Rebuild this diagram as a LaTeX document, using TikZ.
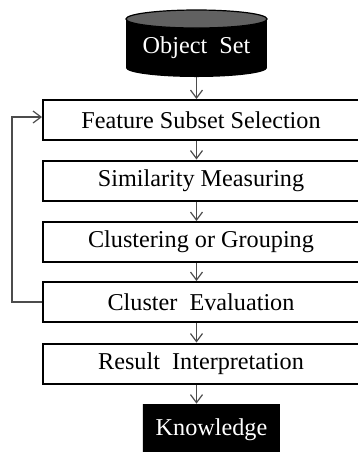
\documentclass[tikz,border=0pt]{standalone}
\usepackage{fontspec}
\setmainfont{Liberation Serif}
\usepackage{tikz}
\usetikzlibrary{calc,arrows.meta}
\tikzset{
	stage/.style={draw, line width=1pt, minimum width=158pt, minimum height=20pt, inner sep=0pt, fill=white},
	flow/.style={draw=black!70, line width=0.6pt, -{Straight Barb[length=4pt,width=6pt]}},
	txt/.style={font=\fontsize{12.1pt}{14pt}\selectfont}
}

\begin{document}
\begin{tikzpicture}[x=0.5pt, y=-0.5pt]
			%%%%% START %%%%%
			\useasboundingbox (0, 0) rectangle (358, 452);
			
			% cylinder
			\fill[black] (126, 19) rectangle (267, 68);
			\fill[black] (196.5, 68) ellipse [x radius=70.5, y radius=9];
			\draw[fill=black!62, line width=0.6pt] (196.5, 19) ellipse [x radius=70.5, y radius=9];
			\node[txt, text=white, minimum width=70.5pt, minimum height=29pt, inner sep=0pt] (obj) at (196.5, 48) {Object\ \ Set};
			
			% stages
			\node[stage, txt] (sel) at (201, 120) {Feature Subset Selection};
			\node[stage, txt] (sim) at (201, 180.5) {Similarity Measuring};
			\node[stage, txt] (clu) at (201, 242) {Clustering or Grouping};
			\node[stage, txt] (eva) at (201, 302) {Cluster\ \ Evaluation};
			\node[stage, txt] (res) at (201, 363.5) {Result\ \ Interpretation};
			
			% knowledge
			\fill[black] (143, 404) -- (280, 404) -- (280, 458) .. controls (250, 446) and (200, 474) .. (143, 462) -- cycle;
			\node[txt, text=white, minimum width=68.5pt, minimum height=26pt, inner sep=0pt] (know) at (211.5, 430) {Knowledge};
			
			\draw[flow] (obj.south) -- (sel.north -| obj.south);
			\draw[flow] (sel.south -| obj.south) -- (sim.north -| obj.south);
			\draw[flow] (sim.south -| obj.south) -- (clu.north -| obj.south);
			\draw[flow] (clu.south -| obj.south) -- (eva.north -| obj.south);
			\draw[flow] (eva.south -| obj.south) -- (res.north -| obj.south);
			\draw[flow] (res.south -| obj.south) -- (know.north -| obj.south);
			
			\draw[flow] (eva.west) -- ++(-30, 0) |- ($(sel.west)+(0, -3)$);
			%%%%% END %%%%%
\end{tikzpicture}
\end{document}
